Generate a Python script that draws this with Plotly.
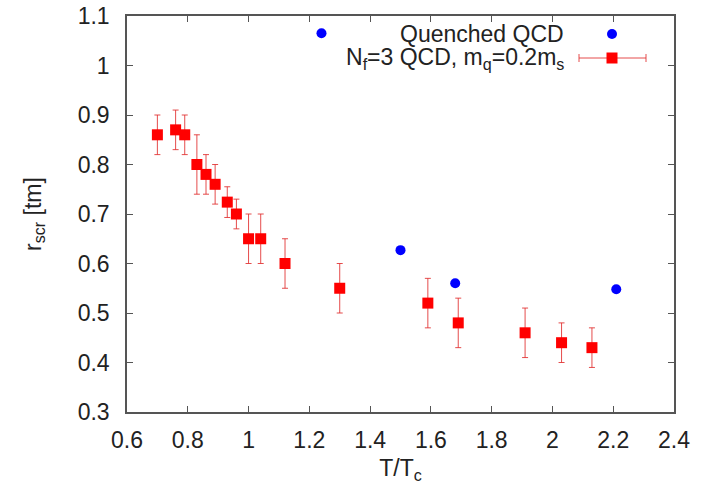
import plotly.graph_objects as go

# ---- data ----
t_nf3 = [0.70, 0.76, 0.79, 0.83, 0.86, 0.89, 0.93, 0.96, 1.00, 1.04, 1.12, 1.30, 1.59, 1.69, 1.91, 2.03, 2.13]
r_nf3 = [0.86, 0.87, 0.86, 0.80, 0.78, 0.76, 0.724, 0.70, 0.65, 0.65, 0.60, 0.55, 0.52, 0.48, 0.46, 0.44, 0.43]
r_nf3_err = [0.04, 0.04, 0.04, 0.06, 0.04, 0.04, 0.031, 0.03, 0.05, 0.05, 0.05, 0.05, 0.05, 0.05, 0.05, 0.04, 0.04]

t_quenched = [1.24, 1.50, 1.68, 2.21]
r_quenched = [1.065, 0.627, 0.56, 0.548]

x_ticks = [0.6, 0.8, 1.0, 1.2, 1.4, 1.6, 1.8, 2.0, 2.2, 2.4]
x_ticktext = ["0.6", "0.8", "1", "1.2", "1.4", "1.6", "1.8", "2", "2.2", "2.4"]
y_ticks = [0.3, 0.4, 0.5, 0.6, 0.7, 0.8, 0.9, 1.0, 1.1]
y_ticktext = ["0.3", "0.4", "0.5", "0.6", "0.7", "0.8", "0.9", "1", "1.1"]

legend_quenched = "Quenched QCD"
legend_nf3 = "N<sub>f</sub>=3 QCD, m<sub>q</sub>=0.2m<sub>s</sub>"
x_title = "T/T<sub>c</sub>"
y_title = "r<sub>scr</sub> [tm]"

# ---- layout constants ----
W, H = 707, 485
ML, MR, MT, MB = 127, 33, 16, 73
PW, PH = W - ML - MR, H - MT - MB
FONT = "Liberation Sans, Arial, Helvetica, sans-serif"
FS = 23
TXT = "#222222"
RED = "#ff0000"
ERR = "rgba(225,45,45,0.85)"
BLUE = "#0000ff"
AXC = "#555555"


def px(x):
    return (x - ML) / PW


def py(y):
    return (H - MB - y) / PH


fig = go.Figure()

fig.add_trace(go.Scatter(
    x=t_quenched, y=r_quenched, mode="markers", name=legend_quenched,
    marker=dict(symbol="circle", size=10, color=BLUE),
    showlegend=False,
))

fig.add_trace(go.Scatter(
    x=t_nf3, y=r_nf3, mode="markers", name=legend_nf3,
    marker=dict(symbol="square", size=11, color=RED),
    error_y=dict(type="data", array=r_nf3_err, visible=True,
                 color=ERR, thickness=1, width=3),
    showlegend=False,
))

axis_common = dict(
    showline=True, linecolor=AXC, linewidth=1.5, mirror="ticks",
    ticks="inside", ticklen=6, tickwidth=1.2, tickcolor=AXC,
    showgrid=False, zeroline=False, automargin=False,
    tickfont=dict(family=FONT, size=FS, color=TXT),
)

fig.update_xaxes(
    range=[0.6, 2.4], tickvals=x_ticks, ticktext=x_ticktext,
    ticklabelstandoff=7,
    title=dict(text=x_title, font=dict(family=FONT, size=FS, color=TXT), standoff=8),
    **axis_common,
)
fig.update_yaxes(
    range=[0.3, 1.1], tickvals=y_ticks, ticktext=y_ticktext,
    ticklabelstandoff=11,
    title=dict(text=y_title, font=dict(family=FONT, size=FS, color=TXT), standoff=30),
    **axis_common,
)

# ---- gnuplot-style key (text right, sample left-to-right) ----
shapes = []
annotations = []
key_text_right = 566
key_sample_x = 612
key_y1, key_y2 = 34, 58

annotations.append(dict(
    xref="paper", yref="paper", x=px(key_text_right), y=py(key_y1),
    xanchor="right", yanchor="middle", showarrow=False, text=legend_quenched,
    font=dict(family=FONT, size=FS, color=TXT),
))
annotations.append(dict(
    xref="paper", yref="paper", x=px(key_text_right), y=py(key_y2),
    xanchor="right", yanchor="middle", showarrow=False, text=legend_nf3,
    font=dict(family=FONT, size=FS, color=TXT),
))
# blue dot sample
r = 5
shapes.append(dict(type="circle", xref="paper", yref="paper",
                   x0=px(key_sample_x - r), x1=px(key_sample_x + r),
                   y0=py(key_y1 + r), y1=py(key_y1 - r),
                   fillcolor=BLUE, line=dict(width=0)))
# red error-bar sample
x_l, x_r = 579, 646
shapes.append(dict(type="line", xref="paper", yref="paper",
                   x0=px(x_l), x1=px(x_r), y0=py(key_y2), y1=py(key_y2),
                   line=dict(color=ERR, width=1)))
for xc in (x_l, x_r):
    shapes.append(dict(type="line", xref="paper", yref="paper",
                       x0=px(xc), x1=px(xc), y0=py(key_y2 - 4), y1=py(key_y2 + 4),
                       line=dict(color=ERR, width=1)))
s = 5.5
shapes.append(dict(type="rect", xref="paper", yref="paper",
                   x0=px(key_sample_x - s), x1=px(key_sample_x + s),
                   y0=py(key_y2 + s), y1=py(key_y2 - s),
                   fillcolor=RED, line=dict(width=0)))

fig.update_layout(
    width=W, height=H,
    margin=dict(l=ML, r=MR, t=MT, b=MB),
    paper_bgcolor="white", plot_bgcolor="white",
    font=dict(family=FONT, size=FS, color=TXT),
    shapes=shapes, annotations=annotations,
    showlegend=False,
)

fig.write_html("out.html")
